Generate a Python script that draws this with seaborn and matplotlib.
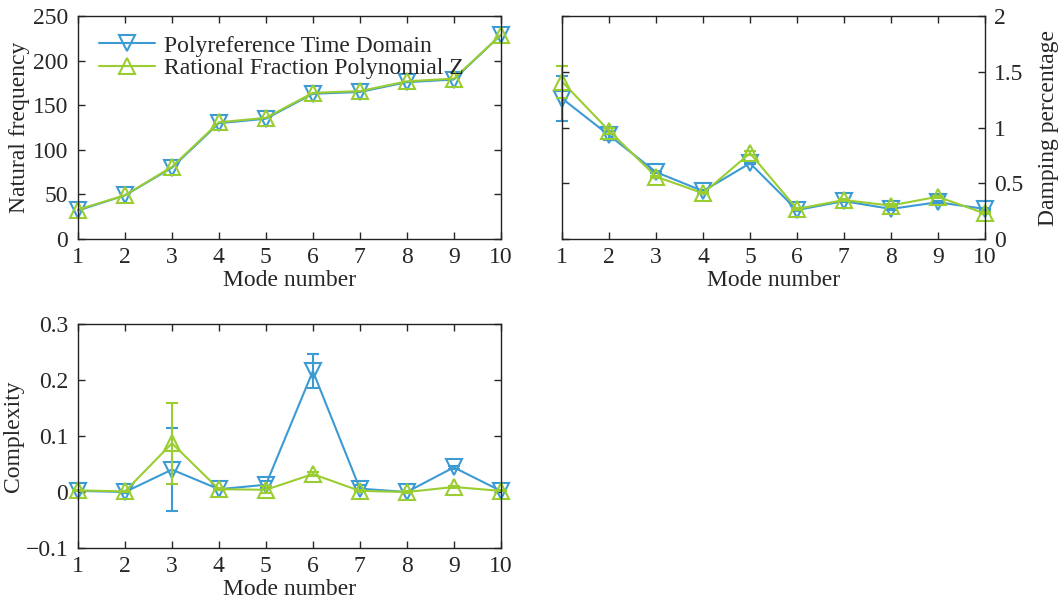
import matplotlib
matplotlib.use("Agg")
import matplotlib.pyplot as plt
import seaborn as sns
import numpy as np

# mode numbers
modes = [1, 2, 3, 4, 5, 6, 7, 8, 9, 10]

# natural frequency
freq_ptd = [32, 49, 80, 130, 135, 163, 165, 176, 179, 229]
freq_rfp = [33, 49, 81, 131, 136, 164, 166, 177, 180, 229]

# damping percentage (mean and error)
damp_ptd = [1.26, 0.93, 0.60, 0.43, 0.68, 0.26, 0.34, 0.27, 0.33, 0.27]
damp_ptd_err = [0.20, 0.04, 0.01, 0.01, 0.01, 0.01, 0.01, 0.01, 0.01, 0.01]
damp_rfp = [1.41, 0.97, 0.56, 0.41, 0.77, 0.27, 0.35, 0.30, 0.38, 0.23]
damp_rfp_err = [0.14, 0.03, 0.01, 0.01, 0.02, 0.01, 0.01, 0.01, 0.01, 0.01]

# complexity (mean and error)
cplx_ptd = [0.002, 0.0, 0.040, 0.005, 0.013, 0.216, 0.006, 0.0, 0.044, 0.002]
cplx_ptd_err = [0.001, 0.001, 0.074, 0.002, 0.006, 0.030, 0.006, 0.001, 0.003, 0.001]
cplx_rfp = [0.003, 0.001, 0.087, 0.005, 0.004, 0.032, 0.002, 0.0, 0.009, 0.002]
cplx_rfp_err = [0.001, 0.001, 0.072, 0.002, 0.006, 0.003, 0.002, 0.001, 0.002, 0.001]

BLUE = "#3b9bd2"
GREEN = "#9acd32"
FS = 17

sns.set_style("ticks")
plt.rcParams["font.family"] = ["Liberation Serif", "DejaVu Serif"]
plt.rcParams["font.size"] = FS
plt.rcParams["axes.linewidth"] = 1.0
plt.rcParams["xtick.direction"] = "in"
plt.rcParams["ytick.direction"] = "in"

fig = plt.figure(figsize=(10.61, 6.02), dpi=100)
ax1 = fig.add_axes([0.0735, 0.603, 0.3985, 0.370])
ax2 = fig.add_axes([0.530, 0.603, 0.398, 0.370])
ax3 = fig.add_axes([0.0735, 0.0897, 0.3985, 0.372])


def draw(ax, y1, y2, e1=None, e2=None):
    for y, e, col, mk, lab in [(y1, e1, BLUE, "v", "Polyreference Time Domain"),
                               (y2, e2, GREEN, "^", "Rational Fraction Polynomial Z")]:
        if e is not None:
            ax.errorbar(modes, y, yerr=e, fmt="none", ecolor=col, elinewidth=1.5,
                        capsize=4, capthick=1.5, clip_on=False)
        sns.lineplot(x=modes, y=y, ax=ax, color=col, marker=mk, markersize=11,
                     markerfacecolor="none", markeredgecolor=col, markeredgewidth=1.5,
                     linewidth=1.5, label=lab, clip_on=False)
    ax.set_xlim(1, 10)
    ax.set_xticks(modes)
    ax.set_xlabel("Mode number", fontsize=FS, labelpad=1)
    ax.tick_params(top=True, right=True, length=5, width=1, labelsize=FS)
    ax.tick_params(axis="x", pad=6)
    ax.tick_params(axis="y", pad=7)
    for s in ax.spines.values():
        s.set_color("#222222")


draw(ax1, freq_ptd, freq_rfp)
ax1.set_ylim(0, 250)
ax1.set_yticks([0, 50, 100, 150, 200, 250])
ax1.set_ylabel("Natural frequency", fontsize=FS, labelpad=2)
ax1.legend(loc="upper left", bbox_to_anchor=(0.01, 0.99), frameon=False, fontsize=FS,
           handlelength=2.4, handletextpad=0.35, labelspacing=0.05, borderaxespad=0.3)

draw(ax2, damp_ptd, damp_rfp, damp_ptd_err, damp_rfp_err)
ax2.set_ylim(0, 2)
ax2.set_yticks([0, 0.5, 1, 1.5, 2])
ax2.set_yticklabels(["0", "0.5", "1", "1.5", "2"])
ax2.yaxis.tick_right()
ax2.yaxis.set_label_position("right")
ax2.tick_params(left=True, right=True, labelleft=False, labelright=True)
ax2.set_ylabel("Damping percentage", fontsize=FS, labelpad=10)
ax2.get_legend().remove()

draw(ax3, cplx_ptd, cplx_rfp, cplx_ptd_err, cplx_rfp_err)
ax3.set_ylim(-0.1, 0.3)
ax3.set_yticks([-0.1, 0, 0.1, 0.2, 0.3])
ax3.set_yticklabels(["\u22120.1", "0", "0.1", "0.2", "0.3"])
ax3.set_ylabel("Complexity", fontsize=FS, labelpad=1)
ax3.get_legend().remove()

fig.savefig("out.png", dpi=100)
